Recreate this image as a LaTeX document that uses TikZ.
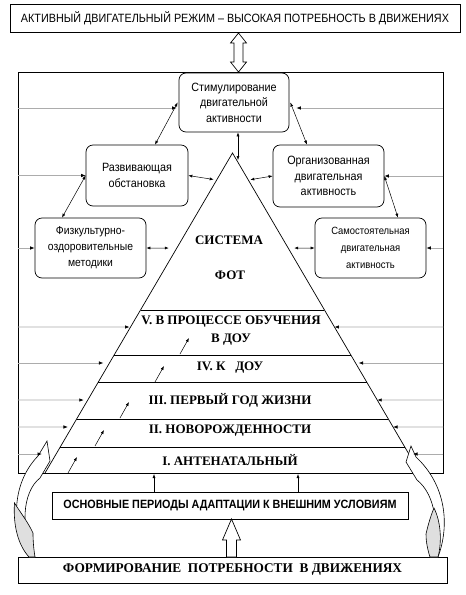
\documentclass[tikz,border=0pt]{standalone}
\usepackage{fontspec}
\setmainfont{Liberation Serif}
\newfontfamily\arial[FakeStretch=0.9]{Liberation Sans}
\usetikzlibrary{arrows.meta,calc}
\begin{document}
\begin{tikzpicture}[x=1pt,y=-1pt,
  box/.style={draw, line width=0.7pt, rounded corners=7pt, inner sep=0pt, align=center, font=\arial\fontsize{12}{15.5}\selectfont},
  rbox/.style={draw, line width=0.7pt, inner sep=0pt, align=center},
  harrow/.style={draw=gray!65, line width=0.7pt, -{Latex[length=4.5pt,width=3.5pt,color=black]}},
  darrow/.style={line width=0.5pt, {Latex[length=4pt,width=3pt]}-{Latex[length=4pt,width=3pt]}},
  sarrow/.style={line width=0.5pt, -{Latex[length=4pt,width=3pt]}},
  lvl/.style={font=\bfseries\fontsize{13}{18}\selectfont, align=center, inner sep=0pt},
  hollow/.style={draw, line width=0.7pt, fill=white},
  curvy/.style={draw, line width=0.6pt, fill=white},
  curvyback/.style={draw, line width=0.6pt, fill=gray!25},
]
\useasboundingbox (0,0) rectangle (466,595);
\fill[white] (0,0) rectangle (466,595);

% top box
\node[rbox, minimum width=450pt, minimum height=28pt] (top) at (235,18)
  {\arial\fontsize{12}{14}\selectfont АКТИВНЫЙ ДВИГАТЕЛЬНЫЙ РЕЖИМ – ВЫСОКАЯ ПОТРЕБНОСТЬ В ДВИЖЕНИЯХ};

% frame
\node[draw, line width=0.7pt, minimum width=425pt, minimum height=401pt, inner sep=0pt] (frame) at (230.5,272.5) {};

% hollow double arrow
\draw[hollow] (238.5,33) -- (246.5,43) -- (243,43) -- (243,62) -- (246.5,62) -- (238.5,72)
  -- (230.5,62) -- (234,62) -- (234,43) -- (230.5,43) -- cycle;

% pyramid
\coordinate (A) at (232.5,153);
\coordinate (BL) at (45,473);
\coordinate (BR) at (420,473);
\draw[line width=0.7pt] (BL) -- (A) -- (BR);
\foreach \t in {0.4906,0.63125,0.7156,0.83125,0.91875}
  \draw[line width=0.7pt] ($(A)!\t!(BL)$) -- ($(A)!\t!(BR)$);

% boxes
\node[box, minimum width=110pt, minimum height=59pt, fill=white] (stim) at (234,102.5) {Стимулирование\\двигательной\\активности};
\node[box, minimum width=102pt, minimum height=61pt] (razv) at (137,175.5) {Развивающая\\обстановка};
\node[box, minimum width=111pt, minimum height=60pt, font=\arial\fontsize{11.5}{16}\selectfont] (fizk) at (90.5,248) {Физкультурно-\\оздоровительные\\методики};
\node[box, minimum width=111pt, minimum height=62pt] (org) at (328.5,176) {Организованная\\двигательная\\активность};
\node[box, minimum width=111pt, minimum height=60pt, font=\arial\fontsize{10.5}{17}\selectfont] (samo) at (370.5,248) {Самостоятельная\\двигательная\\активность};

% pyramid texts
\node[font=\bfseries\fontsize{13}{16}\selectfont] (sys) at (229,240) {СИСТЕМА};
\node[font=\bfseries\fontsize{13}{16}\selectfont] (fot) at (230,275) {ФОТ};
\node[lvl] (l5) at (231,331) {V. В ПРОЦЕССЕ ОБУЧЕНИЯ\\В ДОУ};
\node[lvl] (l4) at (230,368) {IV. К\ \ \ ДОУ};
\node[lvl] (l3) at (230,400) {III. ПЕРВЫЙ ГОД ЖИЗНИ};
\node[lvl] (l2) at (230,431) {II. НОВОРОЖДЕННОСТИ};
\node[lvl] (l1) at (230,460) {I. АНТЕНАТАЛЬНЫЙ};

% bottom boxes
\node[rbox, minimum width=356pt, minimum height=27pt] (osn) at (230,505.5)
  {\arial\bfseries\fontsize{12}{13}\selectfont ОСНОВНЫЕ ПЕРИОДЫ АДАПТАЦИИ К ВНЕШНИМ УСЛОВИЯМ};
\node[rbox, minimum width=429pt, minimum height=26pt] (form) at (232.5,570)
  {\bfseries\fontsize{13.3}{16}\selectfont ФОРМИРОВАНИЕ\ \ ПОТРЕБНОСТИ\ \ В ДВИЖЕНИЯХ};

% hollow up arrow
\draw[hollow] (231.5,519) -- (240.5,540) -- (236.5,540) -- (236.5,557) -- (226.5,557)
  -- (226.5,540) -- (222.5,540) -- cycle;

% curved block arrows
\draw[curvy] (29,557) .. controls (12,530) and (10,485) .. (38,456) -- (47,441) -- (50,461) -- (40,478)
  .. controls (22,492) and (20,530) .. (35,557) -- cycle;
\draw[curvyback] (14.5,503) .. controls (13,525) and (18,545) .. (29,557) -- (35,557)
  .. controls (33,545) and (33,535) .. (33,533) .. controls (28,522) and (20,512) .. (14.5,503) -- cycle;
\draw[curvy] (438,557) .. controls (450,525) and (446,485) .. (416,457) -- (411,446) -- (406,462) -- (417,480)
  .. controls (436,495) and (440,530) .. (430,557) -- cycle;
\draw[curvyback] (434,508) .. controls (441,522) and (442,542) .. (438,557) -- (430,557)
  .. controls (427,548) and (426,540) .. (426,534) .. controls (428,525) and (431,515) .. (434,508) -- cycle;
\coordinate (cl) at (42,454);
\coordinate (cr) at (413,454);

% horizontal arrows left
\draw[harrow, shorten >=2pt] (frame.west |- 0,108) -- (stim.west |- 0,108);
\draw[harrow] (frame.west |- razv.west) -- (razv.west);
\draw[harrow] (frame.west |- fizk.west) -- (fizk.west);
\draw[harrow, shorten >=1pt] (frame.west |- 0,327) -- ($(A)!0.54375!(BL)$);
\draw[harrow, shorten >=6pt] (frame.west |- 0,363) -- ($(A)!0.65625!(BL)$);
\draw[harrow, shorten >=4pt] (frame.west |- 0,400) -- ($(A)!0.771875!(BL)$);
\draw[harrow, shorten >=4pt] (frame.west |- 0,427) -- ($(A)!0.85625!(BL)$);
\draw[harrow] (frame.west |- cl) -- (cl);
% horizontal arrows right
\draw[harrow, shorten >=7pt] (frame.east |- 0,108) -- (stim.east |- 0,108);
\draw[harrow] (frame.east |- org.east) -- (org.east);
\draw[harrow] (frame.east |- samo.east) -- (samo.east);
\draw[harrow] (frame.east |- 0,327) -- ($(A)!0.54375!(BR)$);
\draw[harrow, shorten >=3pt] (frame.east |- 0,363) -- ($(A)!0.65625!(BR)$);
\draw[harrow] (frame.east |- 0,400) -- ($(A)!0.771875!(BR)$);
\draw[harrow] (frame.east |- 0,427) -- ($(A)!0.85625!(BR)$);
\draw[harrow] (frame.east |- cr) -- (cr);

% double arrows
\draw[darrow] ($(stim.west)+(-1,0)$) -- (155,0 |- razv.north);
\draw[darrow] (razv.west) -- (62,0 |- fizk.north);
\draw[darrow, shorten >=3pt] (razv.east) -- ($(A)!0.0844!(BL)$);
\draw[darrow, shorten >=8pt] (fizk.east) -- ($(A)!0.297!(BL)$);
\coordinate (ap) at (238,160);
\draw[darrow] (238,0 |- stim.south) -- (ap);
\draw[darrow] ($(stim.east)+(1,0)$) -- (307,0 |- org.north);
\draw[darrow, shorten >=2pt] (org.west) -- ($(A)!0.0844!(BR)$);
\draw[darrow] (org.east) -- (398,0 |- samo.north);
\draw[darrow, shorten >=6pt] (samo.west) -- ($(A)!0.297!(BR)$);

% diagonal arrows in pyramid
\foreach \p in {(180,354),(155,382),(120,418),(95,446),(68,473)}
  \draw[sarrow] \p -- ++(9,-16);

% arrows from osn up
\draw[sarrow] (154,0 |- osn.north) -- (154,474);
\draw[sarrow] (298,0 |- osn.north) -- (298,474);
\end{tikzpicture}
\end{document}
